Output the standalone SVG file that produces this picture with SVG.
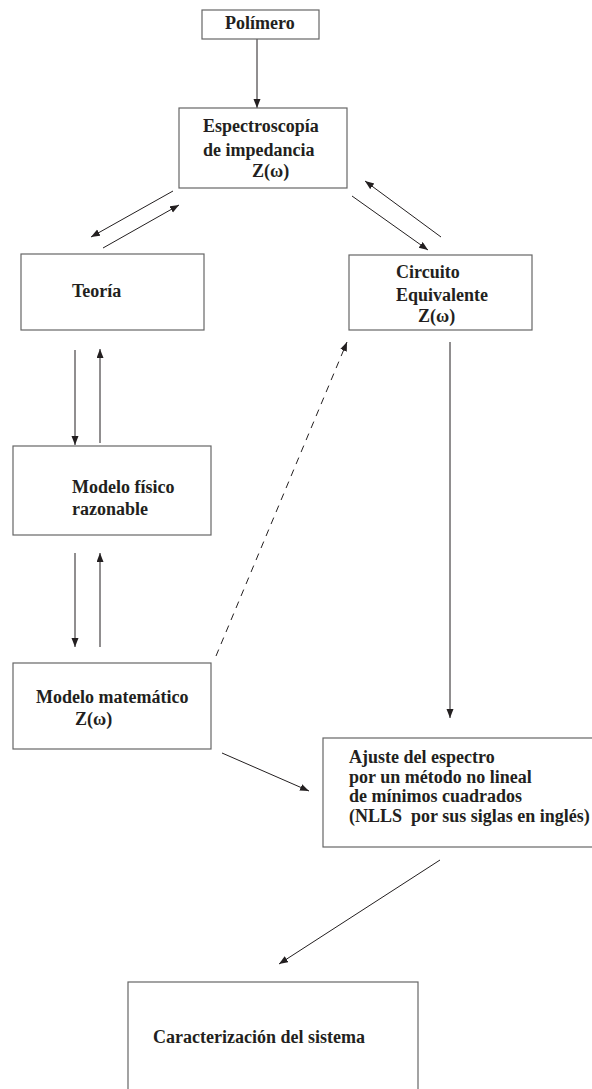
<svg xmlns="http://www.w3.org/2000/svg" width="592" height="1089" viewBox="0 0 592 1089">
<style>
.box{fill:#fff;stroke:#666;stroke-width:1.2}
.t{font-family:"Liberation Serif","Times New Roman",serif;font-weight:bold;font-size:18px;fill:#231f20}
.ln{stroke:#231f20;stroke-width:1;fill:none}
.dash{stroke-dasharray:7,6}
</style>
<defs>
<marker id="ah" markerUnits="userSpaceOnUse" markerWidth="10" markerHeight="8" refX="9" refY="3.5" orient="auto">
<path d="M0,0 L9,3.5 L0,7 z" fill="#231f20"/>
</marker>
</defs>
<rect width="592" height="1089" fill="#fff"/>
<g id="connectors">
<line class="ln" x1="257" y1="39" x2="257" y2="108" marker-end="url(#ah)"/>
<line class="ln" x1="173" y1="191" x2="91" y2="237" marker-end="url(#ah)"/>
<line class="ln" x1="103" y1="248" x2="179" y2="205" marker-end="url(#ah)"/>
<line class="ln" x1="352" y1="196" x2="428" y2="250" marker-end="url(#ah)"/>
<line class="ln" x1="441" y1="237" x2="365" y2="181" marker-end="url(#ah)"/>
<line class="ln" x1="75" y1="350" x2="75" y2="445" marker-end="url(#ah)"/>
<line class="ln" x1="100" y1="443" x2="100" y2="349" marker-end="url(#ah)"/>
<line class="ln" x1="75" y1="553" x2="75" y2="647" marker-end="url(#ah)"/>
<line class="ln" x1="100" y1="647" x2="100" y2="553" marker-end="url(#ah)"/>
<line class="ln dash" x1="216" y1="656" x2="347" y2="342" marker-end="url(#ah)"/>
<line class="ln" x1="450" y1="342" x2="450" y2="718" marker-end="url(#ah)"/>
<line class="ln" x1="222" y1="753" x2="309" y2="791" marker-end="url(#ah)"/>
<line class="ln" x1="440" y1="860" x2="279" y2="964" marker-end="url(#ah)"/>
</g>
<g id="polimero">
<rect class="box" x="202" y="10" width="117" height="29"/>
<text class="t" x="225" y="29">Polímero</text>
</g>
<g id="espectroscopia">
<rect class="box" x="179" y="108" width="168" height="80"/>
<text class="t" x="203" y="132">Espectroscopía</text>
<text class="t" x="203" y="156">de impedancia</text>
<text class="t" x="252" y="177">Z(ω)</text>
</g>
<g id="teoria">
<rect class="box" x="21" y="254" width="183" height="76"/>
<text class="t" x="72" y="297">Teoría</text>
</g>
<g id="circuito">
<rect class="box" x="349" y="255" width="183" height="75"/>
<text class="t" x="396" y="278">Circuito</text>
<text class="t" x="396" y="301">Equivalente</text>
<text class="t" x="418" y="322">Z(ω)</text>
</g>
<g id="modelo-fisico">
<rect class="box" x="13" y="446" width="198" height="89"/>
<text class="t" x="72" y="493">Modelo físico</text>
<text class="t" x="72" y="515">razonable</text>
</g>
<g id="modelo-matematico">
<rect class="box" x="13" y="663" width="198" height="86"/>
<text class="t" x="36" y="703">Modelo matemático</text>
<text class="t" x="75" y="725">Z(ω)</text>
</g>
<g id="ajuste">
<rect class="box" x="323" y="738" width="290" height="109"/>
<text class="t" x="349" y="763">Ajuste del espectro</text>
<text class="t" x="349" y="783">por un método no lineal</text>
<text class="t" x="349" y="802">de mínimos cuadrados</text>
<text class="t" x="349" y="822" xml:space="preserve">(NLLS  por sus siglas en inglés)</text>
</g>
<g id="caracterizacion">
<rect class="box" x="128" y="982" width="290" height="130"/>
<text class="t" x="153" y="1043">Caracterización del sistema</text>
</g>
</svg>
